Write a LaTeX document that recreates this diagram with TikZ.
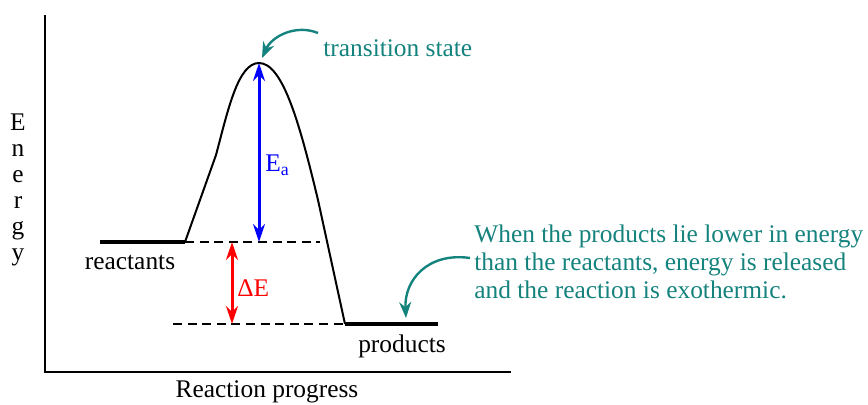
\documentclass[tikz,border=0pt]{standalone}
\usepackage{fontspec}
\setmainfont{Liberation Serif}
\usetikzlibrary{arrows.meta}
\definecolor{eteal}{RGB}{20,130,125}
\definecolor{eblue}{RGB}{0,0,255}
\definecolor{ered}{RGB}{255,0,0}

\begin{document}
\begin{tikzpicture}[x=0.5pt,y=-0.5pt,
  lbl/.style={font=\rmfamily\fontsize{12.7}{14}\selectfont,inner sep=0pt},
  level/.style={line width=1.6pt},
  guide/.style={line width=1.2pt,dash pattern=on 4.5pt off 2.8pt},
  gap/.style={{Stealth[length=9pt,width=6pt]}-{Stealth[length=9pt,width=6pt]},line width=1.5pt},
  note/.style={eteal,line width=1.2pt,-{Stealth[length=8pt,width=6pt]}}]
\useasboundingbox (0,0) rectangle (868,404);
% axes
\coordinate (top) at (45,15);
\coordinate (origin) at (45,372);
\coordinate (xend) at (511,372);
\draw[line width=0.8pt] (top) -- (origin) -- (xend);
% energy levels
\coordinate (r0) at (100,242);
\coordinate (r1) at (185,242);
\coordinate (r2) at (320,242);
\coordinate (p0) at (173,324);
\coordinate (p1) at (345,324);
\coordinate (p2) at (438,324);
\coordinate (kink) at (216,155);
\coordinate (peak) at (259,63);
\draw[level] (r0) -- (r1);
\draw[level] (p1) -- (p2);
\draw[guide] (r1) -- (r2);
\draw[guide] (p0) -- (p1);
% reaction path
\draw[line width=1pt,line join=round] (r1) -- (kink)
  .. controls (228,110) and (238,63) .. (peak)
  .. controls (283,63) and (300,125) .. (318,200) -- (p1);
% activation energy and energy change
\draw[gap,eblue] (259,242) -- (peak);
\draw[gap,ered] (232,242) -- (232,324);
\node[lbl,eblue,anchor=west] (ea) at (265,165) {E\textsubscript{a}};
\node[lbl,ered,anchor=west] (de) at (237,288) {ΔE};
% labels
\node[lbl,align=center,font=\fontsize{12.7}{13}\selectfont] (energy) at (18,190) {E\\n\\e\\r\\g\\y};
\node[lbl] (reac) at (130,262) {reactants};
\node[lbl] (prod) at (402,346) {products};
\node[lbl] (xlab) at (267,392) {Reaction progress};
\node[lbl,eteal,anchor=west] (ts) at (323,48) {transition state};
\node[lbl,eteal,anchor=north west,align=left] (exo) at (474,224)
  {When the products lie lower in energy\\than the reactants, energy is released\\and the reaction is exothermic.};
% pointers
\coordinate (tsend) at (262,58);
\coordinate (prodend) at (406,318);
\draw[note] (318,33) .. controls (296,24) and (272,36) .. (tsend);
\draw[note] (470,258) .. controls (428,252) and (404,280) .. (prodend);
\end{tikzpicture}
\end{document}
